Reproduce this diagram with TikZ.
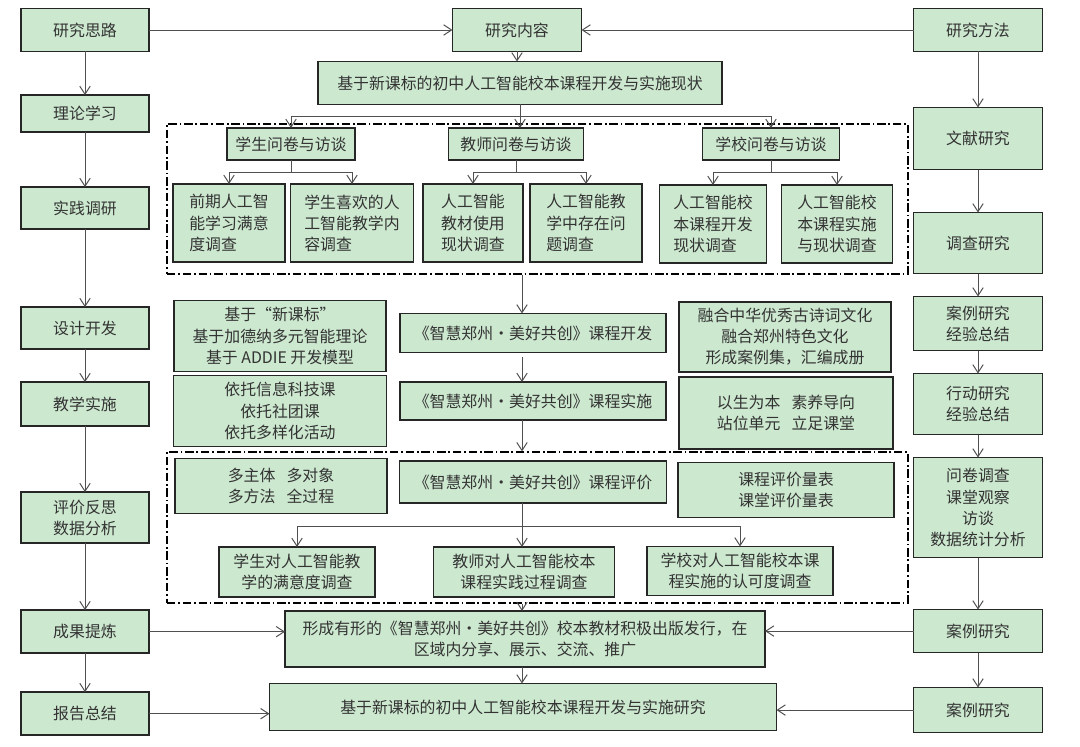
\documentclass[tikz,border=0pt]{standalone}
\usepackage{fontspec}
\setmainfont{Noto Sans CJK SC}
\usetikzlibrary{positioning, arrows.meta}
\definecolor{boxgreen}{RGB}{204,232,207}
\definecolor{linegray}{RGB}{80,80,80}
\tikzset{
    gbox/.style = {draw=black!85, fill=boxgreen, line width=1.1pt, inner sep=1pt, outer sep=0pt, align=center, text=black!80, font=\fontsize{11.3}{15}\selectfont},
    wh/.style 2 args = {minimum width=#1*0.025cm, minimum height=#2*0.025cm},
    dbox/.style = {draw=black, line width=0.9pt, dash pattern=on 6pt off 2pt on 1.2pt off 2pt},
    arr/.style = {draw=linegray, line width=0.7pt, -{Straight Barb[length=2mm, width=2.6mm]}},
    lin/.style = {draw=linegray, line width=0.7pt}
}
\begin{document}
\begin{tikzpicture}[x=0.025cm, y=-0.025cm]
\useasboundingbox (0,0) rectangle (1080,747);
\coordinate (midline) at (522,0);
% left column
\node[gbox, wh={128}{43}] (think) at (85,30) {研究思路};
\node[gbox, wh={128}{37}, below=1.09cm of think] (theory) {理论学习};
\node[gbox, wh={128}{42}, below=1.375cm of theory] (practice) {实践调研};
\node[gbox, wh={128}{42}, below=1.95cm of practice] (design) {设计开发};
\node[gbox, wh={128}{44}, below=0.825cm of design] (teach) {教学实施};
\node[gbox, wh={128}{51}, below=1.65cm of teach] (reflect) {评价反思\\数据分析};
\node[gbox, wh={128}{43}, below=1.675cm of reflect] (refine) {成果提炼};
\node[gbox, wh={128}{43}, below=0.975cm of refine] (report) {报告总结};
% right column
\node[gbox, wh={129}{43}] (method) at (978,30) {研究方法};
\node[gbox, wh={129}{62}, below=1.4cm of method] (lit) {文献研究};
\node[gbox, wh={129}{61}, below=1.075cm of lit] (inquiry) {调查研究};
\node[gbox, wh={129}{54}, below=0.575cm of inquiry] (casex) {案例研究\\经验总结};
\node[gbox, wh={129}{61}, below=0.575cm of casex] (action) {行动研究\\经验总结};
\node[gbox, wh={129}{100}, below=0.575cm of action] (quest) {问卷调查\\课堂观察\\访谈\\数据统计分析};
\node[gbox, wh={129}{43}, below=1.3cm of quest] (casea) {案例研究};
\node[gbox, wh={129}{45}, below=0.875cm of casea] (caseb) {案例研究};
% middle: status survey
\node[gbox, wh={129}{43}] (content) at (517,30) {研究内容};
\node[gbox, wh={404}{43}] (status) at (520,83) {基于新课标的初中人工智能校本课程开发与实施现状};
\node[dbox, wh={741}{150}] (survey) at (537.5,199) {};
\node[gbox, wh={128}{32}] (stuq) at (291,144) {学生问卷与访谈};
\node[gbox, wh={135}{32}] (teaq) at (516,144) {教师问卷与访谈};
\node[gbox, wh={137}{32}] (schq) at (771,144) {学校问卷与访谈};
\node[gbox, wh={112}{78}, align=left] (s1) at (229,223) {前期人工智\\能学习满意\\度调查};
\node[gbox, wh={123}{78}, align=left] (s2) at (352,223) {学生喜欢的人\\工智能教学内\\容调查};
\node[gbox, wh={100}{78}] (t1) at (473,223) {人工智能\\教材使用\\现状调查};
\node[gbox, wh={112}{78}, align=left] (t2) at (586,223) {人工智能教\\学中存在问\\题调查};
\node[gbox, wh={107}{78}, align=left] (c1) at (713,224) {人工智能校\\本课程开发\\现状调查};
\node[gbox, wh={111}{78}, align=left] (c2) at (837,224) {人工智能校\\本课程实施\\与现状调查};
% middle: development and implementation
\node[gbox, wh={212}{71}] (basis) at (280,336) {基于“新课标”\\基于加德纳多元智能理论\\基于 ADDIE 开发模型};
\node[gbox, wh={266}{39}] (develop) at (533,333) {《智慧郑州・美好共创》课程开发};
\node[gbox, wh={212}{70}] (culture) at (785,337) {融合中华优秀古诗词文化\\融合郑州特色文化\\形成案例集，汇编成册};
\node[gbox, wh={213}{71}] (rely) at (280,411) {依托信息科技课\\依托社团课\\依托多样化活动};
\node[gbox, wh={266}{38}] (implement) at (533,401) {《智慧郑州・美好共创》课程实施};
\node[gbox, wh={214}{72}] (learner) at (786,413) {以生为本\hspace{0.7em}素养导向\\站位单元\hspace{0.7em}立足课堂};
% middle: evaluation
\node[dbox, wh={741}{151}] (assess) at (537.5,527.5) {};
\node[gbox, wh={212}{55}] (multi) at (281,486) {多主体\hspace{0.7em}多对象\\多方法\hspace{0.7em}全过程};
\node[gbox, wh={267}{42}] (evaluate) at (533,482) {《智慧郑州・美好共创》课程评价};
\node[gbox, wh={216}{55}] (scale) at (786,490) {课程评价量表\\课堂评价量表};
\node[gbox, wh={156}{50}] (e1) at (297,572) {学生对人工智能教\\学的满意度调查};
\node[gbox, wh={181}{50}] (e2) at (524,572) {教师对人工智能校本\\课程实践过程调查};
\node[gbox, wh={186}{49}] (e3) at (740,571) {学校对人工智能校本课\\程实施的认可度调查};
% results
\node[gbox, wh={480}{56}] (publish) at (525,639) {形成有形的《智慧郑州・美好共创》校本教材积极出版发行，在\\区域内分享、展示、交流、推广};
\node[gbox, wh={507}{47}] (final) at (523,707) {基于新课标的初中人工智能校本课程开发与实施研究};

% connectors
\foreach \u/\v in {think/theory, theory/practice, practice/design, design/teach, teach/reflect, reflect/refine, refine/report, method/lit, lit/inquiry, inquiry/casex, casex/action, action/quest, quest/casea, casea/caseb}
    \draw[arr] (\u) -- (\v);
\draw[arr] (think) -- (content);
\draw[arr] (method) -- (content);
\draw[arr] (content.south) -- (content.south |- status.north);
\draw[lin] (status.south) -- ++(0,12) coordinate (split);
\draw[arr] (split) -| (stuq.north);
\draw[arr] (split) -| (schq.north);
\draw[arr] (split) -- (split |- teaq.north);
\foreach \a/\b/\c in {stuq/s1/s2, teaq/t1/t2, schq/c1/c2} {
    \draw[lin] (\a.south) -- ++(0,12) coordinate (\a-split);
    \draw[arr] (\a-split) -| (\b.north);
    \draw[arr] (\a-split) -| (\c.north);
}
\draw[arr] (survey.south -| midline) -- (develop.north -| midline);
\draw[arr] (develop.south -| midline) ++(0,5) -- (implement.north -| midline);
\draw[arr] (implement.south -| midline) -- (assess.north -| midline);
\draw[lin] (evaluate.south -| midline) -- ++(0,23) coordinate (esplit);
\draw[arr] (esplit) -| (e1.north);
\draw[arr] (esplit) -- (esplit |- e2.north);
\draw[arr] (esplit) -| (e3.north);
\draw[arr] (assess.south -| midline) -- (publish.north -| midline);
\draw[arr] (publish.south -| midline) -- (final.north -| midline);
\draw[arr] (refine.east) -- (refine.east -| publish.west);
\draw[arr] (report.east) -- (report.east -| final.west);
\draw[arr] (casea.west) -- (casea.west -| publish.east);
\draw[arr] (caseb.west) -- (caseb.west -| final.east);
\end{tikzpicture}
\end{document}
